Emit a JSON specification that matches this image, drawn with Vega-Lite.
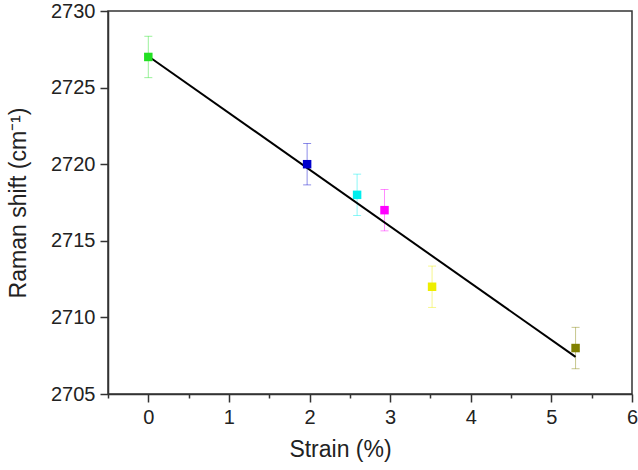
{
  "$schema": "https://vega.github.io/schema/vega-lite/v6.json",
  "autosize": "none",
  "width": 524,
  "height": 383,
  "padding": {"left": 108, "top": 11, "right": 6, "bottom": 76},
  "background": "white",
  "config": {
    "font": "Liberation Sans",
    "view": {"stroke": "#333333", "strokeWidth": 1.5},
    "axis": {
      "grid": false,
      "domainColor": "#333333",
      "domainWidth": 1.5,
      "tickColor": "#333333",
      "tickWidth": 1.5,
      "labelFont": "Liberation Sans",
      "labelFontSize": 20,
      "labelColor": "#222222",
      "labelFlush": false,
      "labelOverlap": false,
      "titleFont": "Liberation Sans",
      "titleFontSize": 23,
      "titleFontWeight": "normal",
      "titleColor": "#222222"
    }
  },
  "datasets": {
    "pts": [
      {"sample": "A", "strain": 0.0, "shift": 2727.0, "lo": 2725.65, "hi": 2728.35},
      {"sample": "B", "strain": 1.97, "shift": 2720.0, "lo": 2718.65, "hi": 2721.35},
      {"sample": "C", "strain": 2.59, "shift": 2718.0, "lo": 2716.65, "hi": 2719.35},
      {"sample": "D", "strain": 2.93, "shift": 2717.0, "lo": 2715.65, "hi": 2718.35},
      {"sample": "E", "strain": 3.52, "shift": 2712.0, "lo": 2710.65, "hi": 2713.35},
      {"sample": "F", "strain": 5.3, "shift": 2708.0, "lo": 2706.65, "hi": 2709.35}
    ],
    "fit": [
      {"strain": 0.0, "shift": 2727.05},
      {"strain": 5.3, "shift": 2707.42}
    ]
  },
  "layer": [
    {
      "data": {"name": "pts"},
      "mark": {"type": "rule", "strokeWidth": 1, "opacity": 0.45},
      "encoding": {
        "x": {"field": "strain", "type": "quantitative", "scale": {"domain": [-0.5, 6], "nice": false, "zero": false},
          "axis": {"values": [-0.5, 0, 0.5, 1, 1.5, 2, 2.5, 3, 3.5, 4, 4.5, 5, 5.5, 6],
            "labelExpr": "datum.value % 1 === 0 ? format(datum.value, 'd') : ''",
            "tickSize": {"condition": {"test": "datum.value % 1 === 0", "value": 8}, "value": 4},
            "title": "Strain (%)", "titleX": 232, "titleY": 44, "labelPadding": 5}},
        "y": {"field": "lo", "type": "quantitative", "scale": {"domain": [2705, 2730], "nice": false, "zero": false},
          "axis": {"values": [2705, 2707.5, 2710, 2712.5, 2715, 2717.5, 2720, 2722.5, 2725, 2727.5, 2730],
            "labelExpr": "datum.value % 5 === 0 ? format(datum.value, 'd') : ''",
            "tickSize": {"condition": {"test": "datum.value % 5 === 0", "value": 8}, "value": 4},
            "title": "Raman shift  (cm⁻¹)", "titlePadding": 20, "labelPadding": 5}},
        "y2": {"field": "hi"},
        "color": {"field": "sample", "type": "nominal", "legend": null,
          "scale": {"domain": ["A", "B", "C", "D", "E", "F"], "range": ["#22e022", "#0000cc", "#00eeee", "#ff00ff", "#eeee00", "#808000"]}}
      }
    },
    {
      "data": {"name": "pts"},
      "mark": {"type": "tick", "orient": "horizontal", "size": 8, "thickness": 1, "opacity": 0.45},
      "encoding": {
        "x": {"field": "strain", "type": "quantitative"},
        "y": {"field": "lo", "type": "quantitative"},
        "color": {"field": "sample", "type": "nominal", "legend": null}
      }
    },
    {
      "data": {"name": "pts"},
      "mark": {"type": "tick", "orient": "horizontal", "size": 8, "thickness": 1, "opacity": 0.45},
      "encoding": {
        "x": {"field": "strain", "type": "quantitative"},
        "y": {"field": "hi", "type": "quantitative"},
        "color": {"field": "sample", "type": "nominal", "legend": null}
      }
    },
    {
      "data": {"name": "fit"},
      "mark": {"type": "line", "color": "black", "strokeWidth": 2},
      "encoding": {
        "x": {"field": "strain", "type": "quantitative"},
        "y": {"field": "shift", "type": "quantitative"}
      }
    },
    {
      "data": {"name": "pts"},
      "mark": {"type": "point", "shape": "square", "filled": true, "size": 72, "opacity": 1},
      "encoding": {
        "x": {"field": "strain", "type": "quantitative"},
        "y": {"field": "shift", "type": "quantitative"},
        "color": {"field": "sample", "type": "nominal", "legend": null}
      }
    }
  ]
}
